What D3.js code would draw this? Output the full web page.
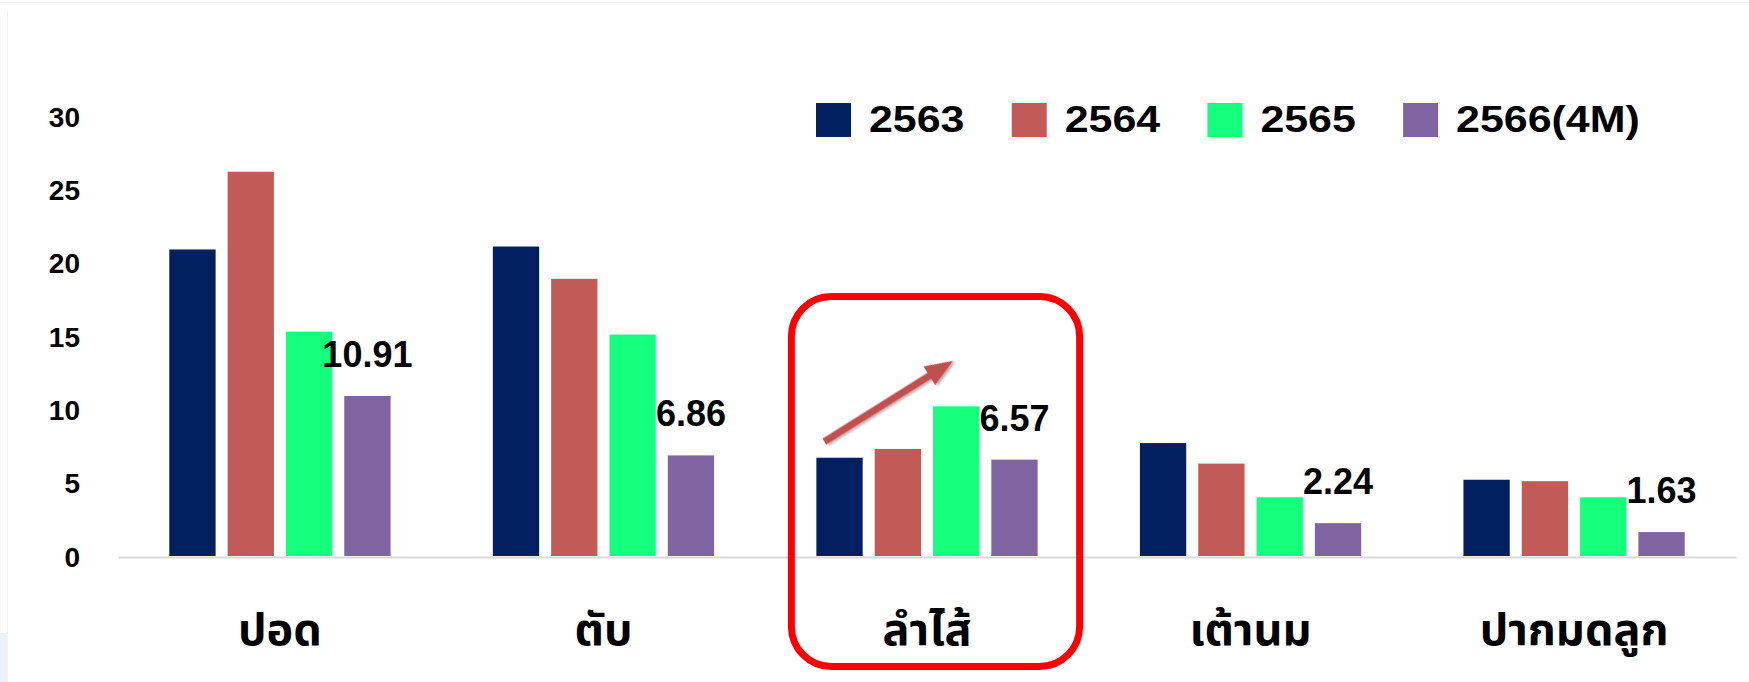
<!DOCTYPE html>
<html>
<head>
<meta charset="utf-8">
<script src="https://cdn.jsdelivr.net/npm/d3@7"></script>
<style>
  html, body { margin: 0; padding: 0; background: #ffffff; }
  svg { display: block; }
</style>
</head>
<body>
<svg id="chart" width="1749" height="682"></svg>
<script>
// ---- data ----
const categories = ["ปอด", "ตับ", "ลำไส้", "เต้านม", "ปากมดลูก"];
const seriesNames = ["2563", "2564", "2565", "2566(4M)"];
const values2563 = [20.9, 21.1, 6.7, 7.7, 5.2];
const values2564 = [26.2, 18.9, 7.3, 6.3, 5.1];
const values2565 = [15.3, 15.1, 10.2, 4.0, 4.0];
const values2566 = [10.91, 6.86, 6.57, 2.24, 1.63];
const seriesColors = ["#022060", "#C25A57", "#14FF7B", "#8064A2"];
const yTicks = [0, 5, 10, 15, 20, 25, 30];
const highlightCategory = "ลำไส้";

const seriesValues = [values2563, values2564, values2565, values2566];
const table = categories.map((c, i) => ({
  category: c,
  values: seriesNames.map((s, j) => ({ series: s, value: seriesValues[j][i] }))
}));

const svg = d3.select("#chart");
const W = 1749, H = 682;

// faint frame details
svg.append("rect").attr("x", 0).attr("y", 633).attr("width", 8).attr("height", 49).attr("fill", "#e9f1f9");
svg.append("line").attr("x1", 7.5).attr("x2", 7.5).attr("y1", 10).attr("y2", H).attr("stroke", "#f2f2f2").attr("stroke-width", 1);
svg.append("line").attr("x1", 0).attr("x2", W).attr("y1", 2.5).attr("y2", 2.5).attr("stroke", "#f7f7f7").attr("stroke-width", 1);

// ---- scales ----
const x0 = d3.scaleBand().domain(categories).range([118, 1736]).paddingInner(0.279).paddingOuter(0.14);
const x1 = d3.scaleBand().domain(seriesNames).range([0, x0.bandwidth()]).paddingInner(0.206).paddingOuter(0.103);
const y = d3.scaleLinear().domain([0, 30]).range([556, 116]);
const color = d3.scaleOrdinal().domain(seriesNames).range(seriesColors);

const numFont = "'Liberation Sans', Arial, Helvetica, sans-serif";
const thaiFont = "'Noto Sans Thai', 'Noto Sans Thai UI', 'Noto Sans', sans-serif";

// ---- y axis (labels only) ----
const yAxis = d3.axisLeft(y).tickValues(yTicks).tickSize(0).tickPadding(0).tickFormat(d3.format("d"));
const yg = svg.append("g").attr("transform", "translate(80,0)").call(yAxis);
yg.select(".domain").remove();
yg.selectAll("text")
  .attr("font-family", numFont).attr("font-weight", "bold").attr("font-size", 28)
  .attr("fill", "#000").attr("dy", "0.36em");

// ---- x baseline ----
const xAxis = d3.axisBottom(x0).tickSize(0).tickPadding(0);
const xg = svg.append("g").attr("transform", `translate(0,${y(0) + 1})`).call(xAxis);
xg.select(".domain").attr("stroke", "#d9d9d9").attr("stroke-width", 2);
xg.selectAll("text")
  .attr("font-family", thaiFont).attr("font-weight", "bold").attr("font-size", 45)
  .attr("fill", "#000").attr("dy", 0).attr("y", 88);

// ---- bars ----
const groups = svg.append("g").selectAll("g").data(table).join("g")
  .attr("transform", d => `translate(${x0(d.category)},0)`);
groups.selectAll("rect").data(d => d.values).join("rect")
  .attr("x", d => x1(d.series))
  .attr("y", d => y(d.value))
  .attr("width", x1.bandwidth())
  .attr("height", d => y(0) - y(d.value))
  .attr("fill", d => color(d.series));

// ---- value labels on last series ----
const lastSeries = seriesNames[seriesNames.length - 1];
groups.append("text")
  .attr("x", d => x1(lastSeries) + x1.bandwidth() / 2)
  .attr("y", d => y(d.values[3].value) - 29)
  .attr("text-anchor", "middle")
  .attr("font-family", numFont).attr("font-weight", "bold").attr("font-size", 36)
  .attr("fill", "#000")
  .text(d => d.values[3].value.toFixed(2));

// ---- highlight box ----
const hx = x0(highlightCategory);
svg.append("rect")
  .attr("x", hx - 19).attr("y", 296.5)
  .attr("width", x0.bandwidth() + 55).attr("height", 370)
  .attr("rx", 40).attr("ry", 40)
  .attr("fill", "none").attr("stroke", "#FF0000").attr("stroke-width", 7);

// ---- trend arrow ----
const defs = svg.append("defs");
const filt = defs.append("filter").attr("id", "shadow").attr("x", "-20%").attr("y", "-20%").attr("width", "140%").attr("height", "140%");
filt.append("feDropShadow").attr("dx", 1.5).attr("dy", 2).attr("stdDeviation", 1.5).attr("flood-color", "#000").attr("flood-opacity", 0.35);

const ax1 = hx + x1("2563") + 8, ay1 = y(7.8);
const ax2 = hx + x1("2565") + 20, ay2 = y(13.3);
const ang = Math.atan2(ay2 - ay1, ax2 - ax1);
const len = Math.hypot(ax2 - ax1, ay2 - ay1);
const headL = 28, headW = 22, shaftW = 7;
const arrowPts = [
  [0, -shaftW / 2], [len - headL, -shaftW / 2], [len - headL, -headW / 2], [len, 0],
  [len - headL, headW / 2], [len - headL, shaftW / 2], [0, shaftW / 2]
];
svg.append("polygon")
  .attr("points", arrowPts.map(p => p.join(",")).join(" "))
  .attr("transform", `translate(${ax1},${ay1}) rotate(${ang * 180 / Math.PI})`)
  .attr("fill", "#C0504D")
  .attr("filter", "url(#shadow)");

// ---- legend ----
const legend = svg.append("g").selectAll("g").data(seriesNames).join("g")
  .attr("transform", (d, i) => `translate(${816 + i * 195.7},103)`);
legend.append("rect").attr("width", 35).attr("height", 34).attr("fill", d => color(d));
legend.append("text")
  .attr("transform", "translate(53,29) scale(1.16,1)")
  .attr("font-family", numFont).attr("font-weight", "bold").attr("font-size", 37)
  .attr("fill", "#000")
  .text(d => d);
</script>
</body>
</html>
